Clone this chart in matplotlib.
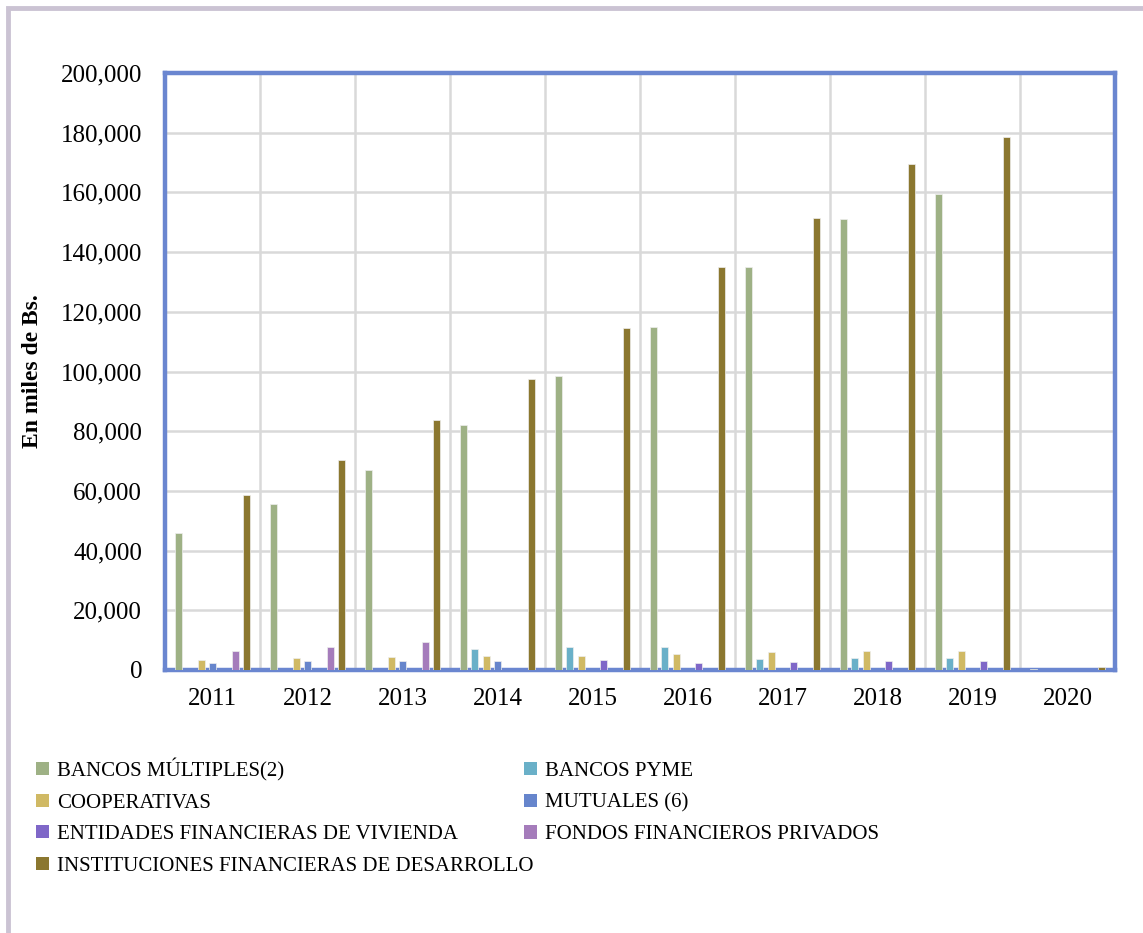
import matplotlib
matplotlib.use("Agg")
import matplotlib.pyplot as plt
import numpy as np
from matplotlib.patches import Rectangle, Patch

years = ["2011", "2012", "2013", "2014", "2015", "2016", "2017", "2018", "2019", "2020"]
series_names = [
    "BANCOS MÚLTIPLES(2)",
    "BANCOS PYME",
    "COOPERATIVAS",
    "MUTUALES (6)",
    "ENTIDADES FINANCIERAS DE VIVIENDA",
    "FONDOS FINANCIEROS PRIVADOS",
    "INSTITUCIONES FINANCIERAS DE DESARROLLO",
]
bancos_multiples = [46000, 55500, 67000, 82000, 98500, 115000, 135000, 151000, 159500, 300]
bancos_pyme = [0, 0, 0, 7100, 7600, 7800, 3700, 3900, 3900, 0]
cooperativas = [3500, 3900, 4350, 4600, 4800, 5400, 6000, 6500, 6300, 0]
mutuales = [2500, 2900, 3100, 3000, 0, 0, 0, 0, 0, 0]
entidades_vivienda = [0, 0, 0, 0, 3250, 2450, 2600, 2900, 2900, 0]
fondos_privados = [6300, 7800, 9500, 0, 0, 0, 0, 0, 0, 0]
ifd = [58500, 70300, 83800, 97500, 114500, 135000, 151500, 169500, 178500, 900]

colors = ["#9eb185", "#6ab0c8", "#d0b964", "#6685cc", "#7f67c8", "#a57cbb", "#8b772f"]
all_series = [bancos_multiples, bancos_pyme, cooperativas, mutuales,
              entidades_vivienda, fondos_privados, ifd]

plt.rcParams['font.family'] = ['Liberation Serif', 'DejaVu Serif']

fig = plt.figure(figsize=(11.43, 9.33), dpi=100)
# outer frame
fig.patches.append(Rectangle((8/1143, -0.1), 1.2, 1.1 - 8/933, transform=fig.transFigure,
                             fill=False, edgecolor="#cbc3d3", linewidth=3.5, zorder=0))

ax = fig.add_axes([165/1143, 1 - 670/933, 950/1143, (670 - 73)/933])
x = np.arange(len(years))
spacing = 0.119
width = 0.074
for j, (vals, c) in enumerate(zip(all_series, colors)):
    v = np.array(vals, dtype=float)
    v[v == 0] = np.nan
    ax.bar(x + (j - 3) * spacing, v, width=width, color=c,
           edgecolor="#eeeeee", linewidth=0.5, zorder=3)

ax.set_xlim(-0.5, len(years) - 0.5)
ax.set_ylim(0, 200000)
ax.set_yticks(np.arange(0, 200001, 20000))
ax.set_yticklabels([f"{v:,}" for v in range(0, 200001, 20000)], fontsize=18)
ax.set_xticks(x)
ax.set_xticklabels(years, fontsize=18)
ax.set_xticks(np.arange(0.5, len(years) - 0.5, 1), minor=True)
ax.tick_params(axis='both', which='both', length=0)
ax.tick_params(axis='y', pad=16.5)
ax.tick_params(axis='x', pad=13)
ax.grid(axis='y', which='major', color="#d9d9d9", linewidth=1.8, zorder=0)
ax.grid(axis='x', which='minor', color="#d9d9d9", linewidth=1.8, zorder=0)
ax.set_axisbelow(True)
for s in ax.spines.values():
    s.set_color("#6a86d0")
    s.set_linewidth(3.2)

ax.set_ylabel("En miles de Bs.", fontsize=17, fontweight='bold', labelpad=13)

handles = [Patch(facecolor=c, edgecolor='none') for c in colors]
order_col1 = [0, 2, 4, 6]
order_col2 = [1, 3, 5]
leg_kw = dict(frameon=False, fontsize=15, handlelength=0.6, handleheight=0.6,
              handletextpad=0.4, labelspacing=0.6, borderaxespad=0, borderpad=0)
leg1 = fig.legend([handles[i] for i in order_col1], [series_names[i] for i in order_col1],
                  loc='upper left', bbox_to_anchor=(36/1143, 1 - 758/933), **leg_kw)
leg2 = fig.legend([handles[i] for i in order_col2], [series_names[i] for i in order_col2],
                  loc='upper left', bbox_to_anchor=(524/1143, 1 - 762/933), **leg_kw)

fig.savefig("out.png", dpi=100, facecolor="white")
